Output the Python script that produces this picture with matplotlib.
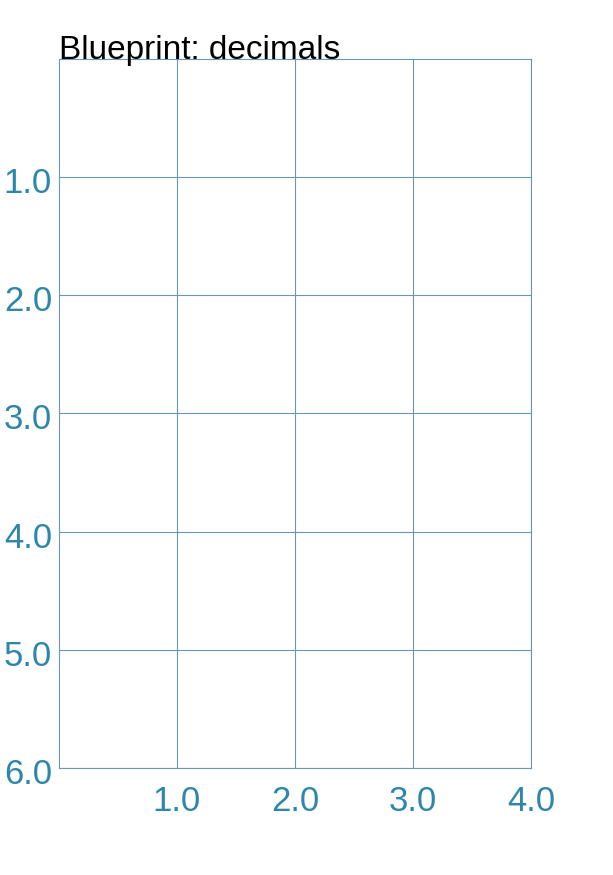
import matplotlib
matplotlib.use("Agg")
import matplotlib.pyplot as plt
import matplotlib.transforms as mtransforms

# axis ranges and ticks
x_ticks = [1.0, 2.0, 3.0, 4.0]
y_ticks = [1.0, 2.0, 3.0, 4.0, 5.0, 6.0]
x_labels = ["1.0", "2.0", "3.0", "4.0"]
y_labels = ["1.0", "2.0", "3.0", "4.0", "5.0", "6.0"]
title = "Blueprint: decimals"

line_color = "#6a98b0"
label_color = "#2e86ab"

plt.rcParams["font.family"] = ["Liberation Sans", "DejaVu Sans"]

fig = plt.figure(figsize=(6.13, 8.75), dpi=100)
ax = fig.add_axes([0.0962, 0.1223, 0.77, 0.8103])

ax.set_xlim(0, 4)
ax.set_ylim(6, 0)
ax.set_xticks(x_ticks)
ax.set_xticklabels(x_labels)
ax.set_yticks(y_ticks)
ax.set_yticklabels(y_labels)

ax.tick_params(axis="both", length=0, labelsize=25, labelcolor=label_color)
ax.tick_params(axis="x", pad=12)
ax.tick_params(axis="y", pad=5)

# nudge y labels down a little
shift = mtransforms.ScaledTranslation(0, -3 / 100, fig.dpi_scale_trans)
for lab in ax.get_yticklabels():
    lab.set_transform(lab.get_transform() + shift)

ax.grid(True, color=line_color, linewidth=0.8)
for s in ax.spines.values():
    s.set_color(line_color)
    s.set_linewidth(0.8)

ax.text(0, 1, title, transform=ax.transAxes, ha="left", va="baseline",
        fontsize=24, color="black")

fig.savefig("out.png", dpi=100)
